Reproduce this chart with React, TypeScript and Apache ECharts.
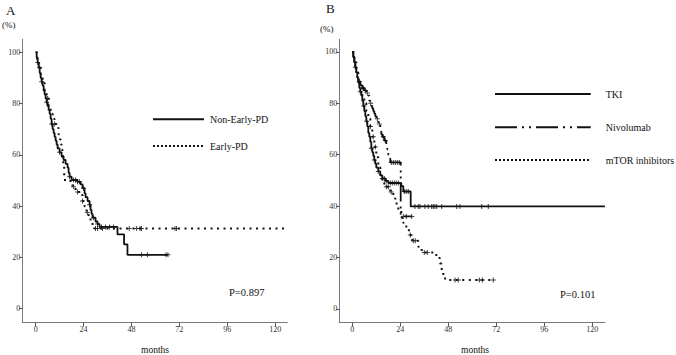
import React, { useEffect, useRef } from "react";
import * as echarts from "echarts";

// Axis ticks shared by both panels
const monthTicks = [0, 24, 48, 72, 96, 120];
const pctTicks = [0, 20, 40, 60, 80, 100];

// Panel A — Kaplan–Meier steps: [month, survival %]
const nonEarlyPD = [
  [0, 100], [0.5, 98], [1, 96], [1.5, 94], [2, 92], [2.5, 90], [3, 88.5], [3.5, 87],
  [4, 85], [4.5, 83.5], [5, 82], [5.5, 80.5], [6, 79], [6.5, 77.5], [7, 76], [7.5, 74],
  [8, 72], [8.5, 70], [9, 68.5], [9.5, 67], [10, 65.5], [10.5, 64], [11, 62.5], [12, 61],
  [13, 59.5], [14, 58], [15, 56.5], [16, 55], [16.5, 53], [17, 51.5], [18, 50.2],
  [21, 49.5], [22.5, 48.5], [23.5, 47], [24.5, 45], [25, 43.5], [26, 42], [27, 40.5],
  [27.5, 38.5], [28, 37], [28.5, 35.5], [30, 34], [31, 33], [32, 31.9], [41, 29],
  [44.3, 25.1], [46, 21], [66.3, 21],
];
const nonEarlyPDCensored = [
  1, 3, 5.5, 8, 12, 17, 19, 20, 21, 22, 24, 27, 29, 31, 33, 35, 37, 39, 53, 56, 65.3, 66.3,
];
const earlyPD = [
  [0, 100], [0.7, 97], [1.5, 94], [2.5, 91], [3.5, 88], [4.5, 85], [5.5, 82], [6.5, 79],
  [7.5, 76], [8.5, 74], [9.5, 72], [10.5, 70.5], [11.5, 68], [12.2, 66], [12.6, 64],
  [13, 62], [13.4, 59], [13.8, 55.5], [14.3, 52], [14.7, 49.8], [18.5, 47.6], [20, 45.5],
  [22, 44.3], [23.5, 42], [24.5, 40], [25.5, 37.5], [26.5, 35.5], [27.5, 34], [28.5, 32.5],
  [29.5, 31.3], [125, 31.3],
];
const earlyPDCensored = [
  2, 6, 9.5, 19, 21, 23.5, 25.9, 30, 31, 33.5, 46.9, 50.6, 52.3, 53, 69.8, 70.6,
];

// Panel B
const tki = [
  [0, 100], [0.5, 98], [1, 96], [1.5, 94], [2, 92], [2.5, 90], [3, 88], [3.5, 86],
  [4, 84.5], [4.5, 83], [5, 81], [5.5, 79], [6, 77], [6.5, 75], [7, 73], [7.5, 71],
  [8, 68.5], [8.5, 67], [9, 65], [9.5, 62.5], [10, 61], [10.5, 59.5], [11, 58],
  [11.5, 56.5], [12, 55], [13, 53.5], [14, 52], [15, 50.8], [16.5, 49.8], [18, 49],
  [24.5, 47.8], [25.5, 45.7], [29.2, 39.9], [126.3, 39.9],
];
const tkiCensored = [
  1.5, 4, 5.8, 7.2, 9.5, 11, 13, 15, 16, 17, 19, 20, 21, 22, 23, 26, 27, 28,
  31.3, 33, 33.8, 36.3, 38, 39.7, 40.5, 41.3, 42.2, 44.7, 52.2, 53.8, 64.7, 68,
];
const nivolumab = [
  [0, 100], [0.5, 98], [1, 96], [1.5, 94], [2, 92], [2.5, 90], [3, 88.5], [4, 87],
  [5, 86], [6, 85], [7, 84], [8, 83], [8.5, 81], [9, 80], [9.5, 79], [10, 78], [10.5, 77],
  [11, 76], [11.5, 75], [12, 74], [13, 72], [14, 70.5], [14.5, 68], [15, 67], [16, 65.5],
  [17, 64], [17.5, 62], [18, 60], [18.5, 58.5], [19, 57], [24.2, 36], [29.7, 36],
];
const nivolumabCensored = [
  3.5, 5.5, 6.5, 7.5, 9.2, 12.5, 13.5, 15.5, 16.5, 19.5, 20.5, 21.5, 22.5, 23.5, 25.5, 27, 29.7,
];
const mtor = [
  [0, 100], [1, 96], [2, 92], [3, 89], [4, 86], [5, 83], [6, 80], [7, 77], [8, 74],
  [9, 71], [10, 67], [11, 63], [12, 59], [13, 55], [14, 52], [15, 49], [16, 47.5],
  [19, 45.5], [20.5, 43], [21.5, 41], [23, 38.5], [24.5, 35.5], [25.5, 33.5], [27, 31],
  [28.3, 28.8], [30, 26.5], [33, 24.2], [34.7, 22], [42, 19.8], [43.8, 17.7], [44.7, 15.1],
  [45.5, 13], [46.4, 11.3], [70.9, 11.3],
];
const mtorCensored = [
  9, 10.5, 11.5, 17, 18, 19.5, 29, 30.5, 31.5, 36, 37.5, 51.4, 53, 63.5, 65, 70.5,
];

const SERIF = '"Liberation Serif", "Times New Roman", serif';
const INK = "#111";
const PLUS = "path://M2,0H3V2H5V3H3V5H2V3H0V2H2Z";

const SOLID = "solid";
const DOTTED = [2, 4.5];
const DASH_DOT = [18, 5, 2, 4, 2, 5];

// survival value of a step curve at time t
function survivalAt(curve: number[][], t: number): number {
  let s = curve[0][1];
  for (const [m, v] of curve) {
    if (m <= t) s = v;
    else break;
  }
  return s;
}

function axesFor(grid: number, xMin: number, xMax: number, yMin: number, yMax: number) {
  const axisLine = { show: true, onZero: false, lineStyle: { color: "#7a7a7a", width: 1 } };
  const label = { fontFamily: SERIF, fontSize: 8, color: "#333" };
  return {
    x: {
      type: "value",
      gridIndex: grid,
      min: xMin,
      max: xMax,
      axisLine,
      axisTick: { show: true, customValues: monthTicks, length: 4, lineStyle: { color: "#555" } },
      axisLabel: { ...label, customValues: monthTicks, margin: 3 },
      splitLine: { show: false },
    },
    y: {
      type: "value",
      gridIndex: grid,
      min: yMin,
      max: yMax,
      axisLine,
      axisTick: { show: true, customValues: pctTicks, length: 3, lineStyle: { color: "#555" } },
      axisLabel: { ...label, customValues: pctTicks, margin: 2 },
      splitLine: { show: false },
    },
  };
}

function curveSeries(idx: number, curve: number[][], censored: number[], type: any, width: number) {
  return [
    {
      type: "line",
      xAxisIndex: idx,
      yAxisIndex: idx,
      data: curve,
      step: "end",
      showSymbol: false,
      symbol: "none",
      lineStyle: { color: INK, width, type },
      z: 2,
    },
    {
      type: "scatter",
      xAxisIndex: idx,
      yAxisIndex: idx,
      data: censored.map((t) => [t, survivalAt(curve, t)]),
      symbol: PLUS,
      symbolSize: 5,
      itemStyle: { color: INK },
      z: 3,
    },
  ];
}

function txt(x: number, y: number, text: string, size: number, align = "left", color = INK) {
  return {
    type: "text",
    x,
    y,
    style: {
      text,
      fontFamily: SERIF,
      fontSize: size,
      fill: color,
      textAlign: align,
      textVerticalAlign: "middle",
    },
  };
}

function legendLine(x1: number, x2: number, y: number, dash: any, width: number) {
  return {
    type: "line",
    shape: { x1, y1: y, x2, y2: y },
    style: { stroke: INK, lineWidth: width, lineDash: dash === SOLID ? null : dash },
  };
}

export default function App() {
  const ref = useRef<HTMLDivElement>(null);

  useEffect(() => {
    if (!ref.current) return;
    const chart = echarts.init(ref.current, undefined, { renderer: "svg" });
    const a = axesFor(0, -6.7, 126.1, -5.46, 105.07);
    const b = axesFor(1, -6.5, 126.35, -5.33, 104.9);

    chart.setOption({
      animation: false,
      backgroundColor: "#fff",
      grid: [
        { left: 22.3, top: 39.3, width: 265, height: 283.4 },
        { left: 339.3, top: 39.3, width: 265.7, height: 283.4 },
      ],
      xAxis: [a.x, b.x],
      yAxis: [a.y, b.y],
      series: [
        ...curveSeries(0, earlyPD, earlyPDCensored, DOTTED, 2),
        ...curveSeries(0, nonEarlyPD, nonEarlyPDCensored, SOLID, 1.8),
        ...curveSeries(1, mtor, mtorCensored, DOTTED, 2),
        ...curveSeries(1, nivolumab, nivolumabCensored, DASH_DOT, 1.8),
        ...curveSeries(1, tki, tkiCensored, SOLID, 1.8),
      ],
      graphic: [
        txt(6, 10.5, "A", 13),
        txt(2, 25, "(%)", 9),
        txt(326, 8, "B", 13),
        txt(320, 29, "(%)", 9),
        txt(155, 350, "months", 9.5, "center"),
        txt(475, 350, "months", 9.5, "center"),
        legendLine(153, 204, 119.3, SOLID, 2),
        txt(210, 119.3, "Non-Early-PD", 10),
        legendLine(153, 204, 146, [2, 2], 2),
        txt(210, 146, "Early-PD", 10),
        legendLine(495, 590.7, 94, SOLID, 2),
        txt(605.7, 94, "TKI", 10),
        legendLine(495, 590.7, 127.3, [22, 5, 2, 5, 2, 5], 2),
        txt(605.7, 127.3, "Nivolumab", 10),
        legendLine(495, 590.7, 160, [2, 2], 2),
        txt(605.7, 160, "mTOR inhibitors", 10),
        txt(229, 292.7, "P=0.897", 10.5),
        txt(560, 294, "P=0.101", 10.5),
      ],
    });

    return () => chart.dispose();
  }, []);

  return (
    <div
      ref={ref}
      style={{ position: "fixed", left: 0, top: 0, width: 676, height: 355, background: "#fff" }}
    />
  );
}
